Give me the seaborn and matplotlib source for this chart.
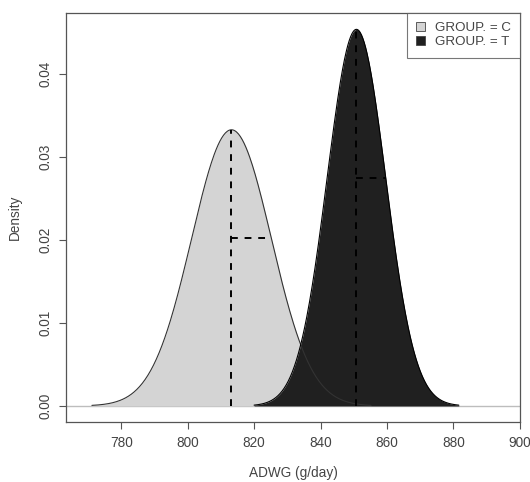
import numpy as np
import pandas as pd
import matplotlib
matplotlib.use("Agg")
import matplotlib.pyplot as plt
from matplotlib.patches import Patch
import seaborn as sns

# group estimates (mean, sd of ADWG)
groups = ["C", "T"]
means = [813.2, 850.8]
sds = [12.0, 8.8]
fills = ["#d4d4d4", "#202020"]
xticks = [780, 800, 820, 840, 860, 880, 900]
yticks = [0.00, 0.01, 0.02, 0.03, 0.04]

sns.set_style("white")
plt.rcParams['font.family'] = ['Liberation Sans', 'DejaVu Sans']

rows = []
for g, m, s in zip(groups, means, sds):
    xs = np.linspace(m - 3.5 * s, m + 3.5 * s, 300)
    d = np.exp(-0.5 * ((xs - m) / s) ** 2) / (s * np.sqrt(2 * np.pi))
    rows.append(pd.DataFrame({"x": xs, "density": d, "group": g}))
df = pd.concat(rows, ignore_index=True)

fig = plt.figure(figsize=(5.3, 4.82), dpi=100)
ax = fig.add_axes([0.1245, 0.125, 0.8565, 0.848])

ax.axhline(0, color="#bdbdbd", lw=1, zorder=1)
for g, c in zip(groups, fills):
    sub = df[df.group == g]
    ax.fill_between(sub.x, 0, sub.density, color=c, lw=0, zorder=2)
sns.lineplot(data=df, x="x", y="density", hue="group", palette=["#333333", "#000000"],
             lw=0.8, legend=False, ax=ax, zorder=3)

# mean and mean + sd markers
for m, s in zip(means, sds):
    pk = 1 / (s * np.sqrt(2 * np.pi))
    ax.plot([m, m], [0, pk], color="black", ls=(0, (3.5, 3.5)), lw=1.4, zorder=4)
    ax.plot([m, m + s], [pk * np.exp(-0.5), pk * np.exp(-0.5)], color="black",
            ls=(0, (3.5, 3.5)), lw=1.4, zorder=4)

ax.set_xlim(763.4, 900)
ax.set_ylim(-0.0019, 0.0473)
ax.set_xticks(xticks)
ax.set_yticks(yticks)
ax.set_yticklabels(["%.2f" % v for v in yticks], rotation=90, va="center")
ax.tick_params(axis="both", direction="out", length=5, width=0.8, color="#555555",
               labelsize=9.8, labelcolor="#444444", pad=5, left=True, bottom=True)
for sp in ax.spines.values():
    sp.set_color("#555555")
    sp.set_linewidth(0.9)
ax.set_xlabel("ADWG (g/day)", fontsize=9.8, color="#444444", labelpad=12)
ax.set_ylabel("Density", fontsize=9.8, color="#444444", labelpad=12)

handles = [Patch(facecolor=c, edgecolor="#444444", lw=0.6) for c in fills]
leg = ax.legend(handles, ["GROUP. = " + g for g in groups], loc="upper right",
                borderaxespad=0, fancybox=False, frameon=True, fontsize=9.6,
                handlelength=0.65, handleheight=0.65, handletextpad=0.75,
                labelspacing=0.12, borderpad=0.7)
leg.get_frame().set_edgecolor("#555555")
leg.get_frame().set_linewidth(0.8)
for t in leg.get_texts():
    t.set_color("#444444")

plt.savefig("out.png", dpi=100)
